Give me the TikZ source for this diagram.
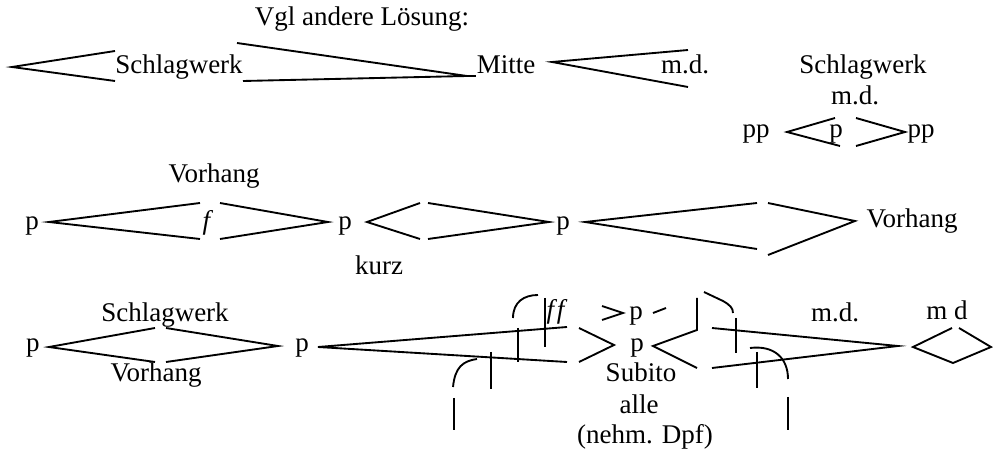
\documentclass[tikz,border=0pt]{standalone}
\usepackage{fontspec}
\setmainfont{Liberation Serif}
\newcommand\dfont{\fontsize{20.25}{24}\selectfont}
\begin{document}
\begin{tikzpicture}[x=0.75pt,y=-0.75pt,
  txt/.style={font=\dfont, anchor=base, inner sep=0pt},
  hp/.style={line width=1.4pt, line join=miter},
  tick/.style={line width=1.4pt}]
\useasboundingbox (0,0) rectangle (993,452);
% ---------- row 1 ----------
\node[txt] (vgl) at (362,26) {Vgl andere Lösung:};
\node[txt] (s1) at (179,74) {Schlagwerk};
\node[txt] (mitte) at (506,74) {Mitte};
\node[txt] (md1) at (685,74) {m.d.};
\node[txt] (s2) at (863,74) {Schlagwerk};
\node[txt] (md2) at (855,105) {m.d.};
\node[txt] (ppl) at (756,138) {pp};
\node[txt] (pm) at (836,138) {p};
\node[txt] (ppr) at (921,138) {pp};
\draw[hp] (115,51) -- (12,67) -- (115,81);
\draw[hp] (237,43) -- (467,76) -- (243,81);
\draw[hp] (467,76) -- (476,76);
\draw[hp] (688,50) -- (552,62) -- (688,87);
\draw[hp] (835,118) -- (787,132) -- (840,146);
\draw[hp] (856,118) -- (905,132) -- (856,146);
% ---------- row 2 ----------
\node[txt] (vor1) at (214,183) {Vorhang};
\node[txt] (p1) at (32,230) {p};
\node[txt] (f1) at (208,230) {\textit{f}};
\node[txt] (p2) at (345,230) {p};
\node[txt] (p3) at (563,230) {p};
\node[txt] (vor2) at (912,228) {Vorhang};
\node[txt] (kurz) at (379,275) {kurz};
\draw[hp] (200,203) -- (49,222) -- (200,239);
\draw[hp] (220,203) -- (328,222) -- (220,239);
\draw[hp] (420,203) -- (367,222) -- (420,239);
\draw[hp] (428,203) -- (549,222) -- (428,239);
\draw[hp] (757,203) -- (585,222) -- (757,249);
\draw[hp] (768,203) -- (855,221) -- (768,255);
% ---------- row 3 ----------
\node[txt] (s3) at (165,322) {Schlagwerk};
\node[txt] (p4) at (33,352) {p};
\node[txt] (vor3) at (156,382) {Vorhang};
\node[txt] (p5) at (302,352) {p};
\node[txt] (ff) at (557,319) {\textit{f\kern2pt f}};
\node[txt] (p6) at (636,320) {p};
\node[txt] (p7) at (637,352) {p};
\node[txt] (sub) at (641,382) {Subito};
\node[txt] (alle) at (639,413) {alle};
\node[txt] (dpf) at (645,443) {(nehm. Dpf)};
\node[txt] (md3) at (835,322) {m.d.};
\node[txt] (md4) at (947,320) {m d};
\draw[hp] (155,328) -- (49,347) -- (155,362);
\draw[hp] (166,328) -- (278,346) -- (166,362);
\draw[hp] (567,327) -- (318,347) -- (567,362);
\draw[hp] (602,306) -- (623,313) -- (602,320);
\draw[hp] (653,313) -- (666,308);
\draw[hp] (579,328) -- (614,345) -- (579,362);
\draw[hp] (697,298) -- (697,330) -- (653,346) -- (697,368);
\draw[hp] (712,328) -- (898,346) -- (712,368);
\draw[hp] (952,328) -- (913,347) -- (953,363) -- (991,347) -- (959,328);
% ticks and arcs
\draw[tick] (518,328) -- (518,362);
\draw[tick] (545,298) -- (545,347);
\draw[tick] (491,352) -- (491,389);
\draw[tick] (454,398) -- (454,430);
\draw[tick] (513,318) .. controls (513,302) and (524,295) .. (538,295);
\draw[tick] (453,387) .. controls (455,367) and (463,361) .. (477,359);
\draw[tick] (704,292) -- (723,301) .. controls (730,305) and (733,308) .. (733,313);
\draw[tick] (736,318) -- (736,353);
\draw[tick] (750,348) .. controls (774,345) and (788,358) .. (788,379);
\draw[tick] (757,352) -- (757,388);
\draw[tick] (788,397) -- (788,430);
\end{tikzpicture}
\end{document}
